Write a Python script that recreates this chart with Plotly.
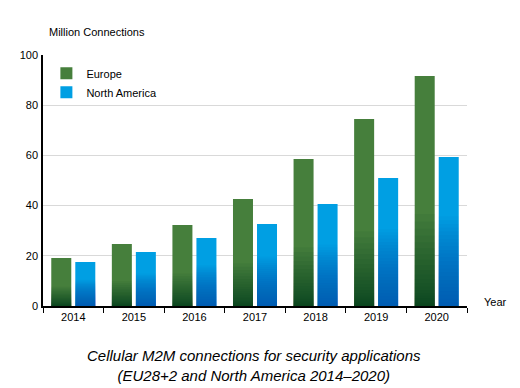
import plotly.graph_objects as go

years = ["2014", "2015", "2016", "2017", "2018", "2019", "2020"]
europe = [19.1, 24.7, 32.3, 42.6, 58.6, 74.5, 91.6]
north_america = [17.5, 21.5, 27.1, 32.7, 40.6, 51.0, 59.4]

FONT = "Liberation Sans, Arial, sans-serif"
EU_COLOR = "#467f3c"
NA_COLOR = "#009fe3"

fig = go.Figure()
fig.add_trace(go.Bar(x=years, y=europe, name="Europe", offsetgroup="eu",
                     marker=dict(color=EU_COLOR, line=dict(width=0))))
fig.add_trace(go.Bar(x=years, y=north_america, name="North America", offsetgroup="na",
                     marker=dict(color=NA_COLOR, line=dict(width=0))))

# bottom gradient shading (overlaid on the same bars)
N = 24
for i in range(1, N + 1):
    fe = 0.4 * (i / N) ** 2
    fn = 0.6 * i / N
    fig.add_trace(go.Bar(x=years, y=[v * fe for v in europe], offsetgroup="eu",
                         showlegend=False, hoverinfo="skip",
                         marker=dict(color="rgba(0,65,35,0.065)", line=dict(width=0))))
    fig.add_trace(go.Bar(x=years, y=[v * fn for v in north_america], offsetgroup="na",
                         showlegend=False, hoverinfo="skip",
                         marker=dict(color="rgba(0,80,160,0.045)", line=dict(width=0))))

# page body has an 8px margin: compensate so the plot area sits where the reference has it
fig.update_layout(
    width=512, height=380,
    margin=dict(l=35, r=53, t=47, b=82),
    paper_bgcolor="white", plot_bgcolor="white",
    barmode="group", bargap=0.207, bargroupgap=0.167,
    font=dict(family=FONT, size=11, color="black"),
    legend=dict(x=0.008, y=0.985, xanchor="left", yanchor="top",
                bgcolor="rgba(0,0,0,0)", font=dict(size=11), tracegroupgap=2),
    xaxis=dict(showline=True, linecolor="black", linewidth=1.5, automargin=False,
               ticks="outside", tickson="boundaries", ticklen=5, tickcolor="black",
               showgrid=False, tickfont=dict(size=11)),
    yaxis=dict(range=[0, 100], dtick=20, showline=True, linecolor="black", linewidth=1.5,
               automargin=False,
               showgrid=True, gridcolor="#d9d9d9", gridwidth=1, zeroline=False,
               ticks="", tickfont=dict(size=11), ticklabelstandoff=1),
    annotations=[
        dict(text="Million Connections", xref="paper", yref="paper", x=0.009, y=1.092,
             xanchor="left", yanchor="middle", showarrow=False, font=dict(size=11)),
        dict(text="Year", xref="paper", yref="paper", x=1.035, y=0.016,
             xanchor="left", yanchor="middle", showarrow=False, font=dict(size=11)),
        dict(text="<i>Cellular M2M connections for security applications<br>(EU28+2 and North America 2014\u20132020)</i>",
             xref="paper", yref="paper", x=0.498, y=-0.237,
             xanchor="center", yanchor="middle", showarrow=False,
             font=dict(size=15)),
    ],
)

fig.write_html("out.html")
